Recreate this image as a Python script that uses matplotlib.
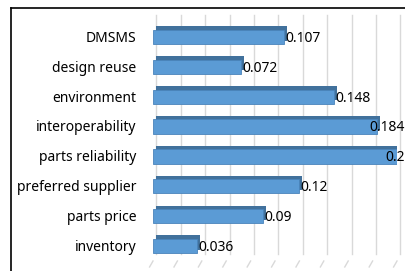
import matplotlib
matplotlib.use("Agg")
import matplotlib.pyplot as plt
import matplotlib.transforms as mtransforms
from matplotlib.lines import Line2D

categories = ["DMSMS", "design reuse", "environment", "interoperability",
              "parts reliability", "preferred supplier", "parts price", "inventory"]
values = [0.107, 0.072, 0.148, 0.184, 0.2, 0.12, 0.09, 0.036]
value_labels = ["0.107", "0.072", "0.148", "0.184", "0.2", "0.12", "0.09", "0.036"]
grid_ticks = [0.0, 0.02, 0.04, 0.06, 0.08, 0.10, 0.12, 0.14, 0.16, 0.18, 0.20]

plt.rcParams['font.family'] = ['Noto Sans', 'DejaVu Sans']

W, H = 406, 271
fig = plt.figure(figsize=(W / 100, H / 100), dpi=100)
ax = fig.add_axes([153 / W, 1 - 261 / H, 244 / W, 239 / H])
ax.set_xlim(0, 0.2)
ax.set_ylim(len(categories) - 0.5, -0.5)
for s in ax.spines.values():
    s.set_visible(False)
ax.set_xticks([])
ax.set_yticks([])
ax.patch.set_alpha(0)

# back-wall gridlines (offset for 3D look)
off_grid = mtransforms.offset_copy(ax.transData, fig=fig, x=3.5, y=7, units='dots')
for g in grid_ticks:
    ax.plot([g, g], [len(categories) - 0.5, -0.5], color="#d9d9d9", lw=1.0,
            transform=off_grid, zorder=0, clip_on=False)
    ax.plot([g, g - 0.0028], [len(categories) - 0.5, len(categories) - 0.5 + 0.2],
            color="#d9d9d9", lw=1.0, transform=ax.transData, zorder=0, clip_on=False)

ypos = list(range(len(categories)))
bh = 0.48
off_bar = mtransforms.offset_copy(ax.transData, fig=fig, x=3, y=3.5, units='dots')
ax.barh(ypos, values, height=bh, color="#41719c", transform=off_bar, zorder=2)
ax.barh(ypos, values, height=bh, color="#5b9bd5", edgecolor="#4a84bb", lw=0.6, zorder=3)

texts = []
for y, v, lab in zip(ypos, values, value_labels):
    t = ax.annotate(lab, (v, y), xytext=(1, -1), textcoords='offset points',
                    ha='left', va='center', fontsize=10, color="#000000", zorder=5,
                    annotation_clip=False)
    texts.append(t)

for y, c in zip(ypos, categories):
    ax.annotate(c, (0, y), xytext=(-12, -1), textcoords='offset points',
                ha='right', va='center', fontsize=10, color="#000000")

# keep value labels inside the chart area (as the chart tool does)
fig.canvas.draw()
renderer = fig.canvas.get_renderer()
right_limit = W - 1
for t in texts:
    bb = t.get_window_extent(renderer)
    if bb.x1 > right_limit:
        shift = (bb.x1 - right_limit) * 72 / fig.dpi
        x0, y0 = t.xyann
        t.xyann = (x0 - shift, y0)

# chart frame (partially visible)
fig.add_artist(Line2D([11 / W, 11 / W], [0, 1 - 8 / H], color="black", lw=1.2,
                      transform=fig.transFigure))
fig.add_artist(Line2D([11 / W, 1], [1 - 8 / H, 1 - 8 / H], color="black", lw=1.2,
                      transform=fig.transFigure))

fig.savefig("out.png", dpi=100)
